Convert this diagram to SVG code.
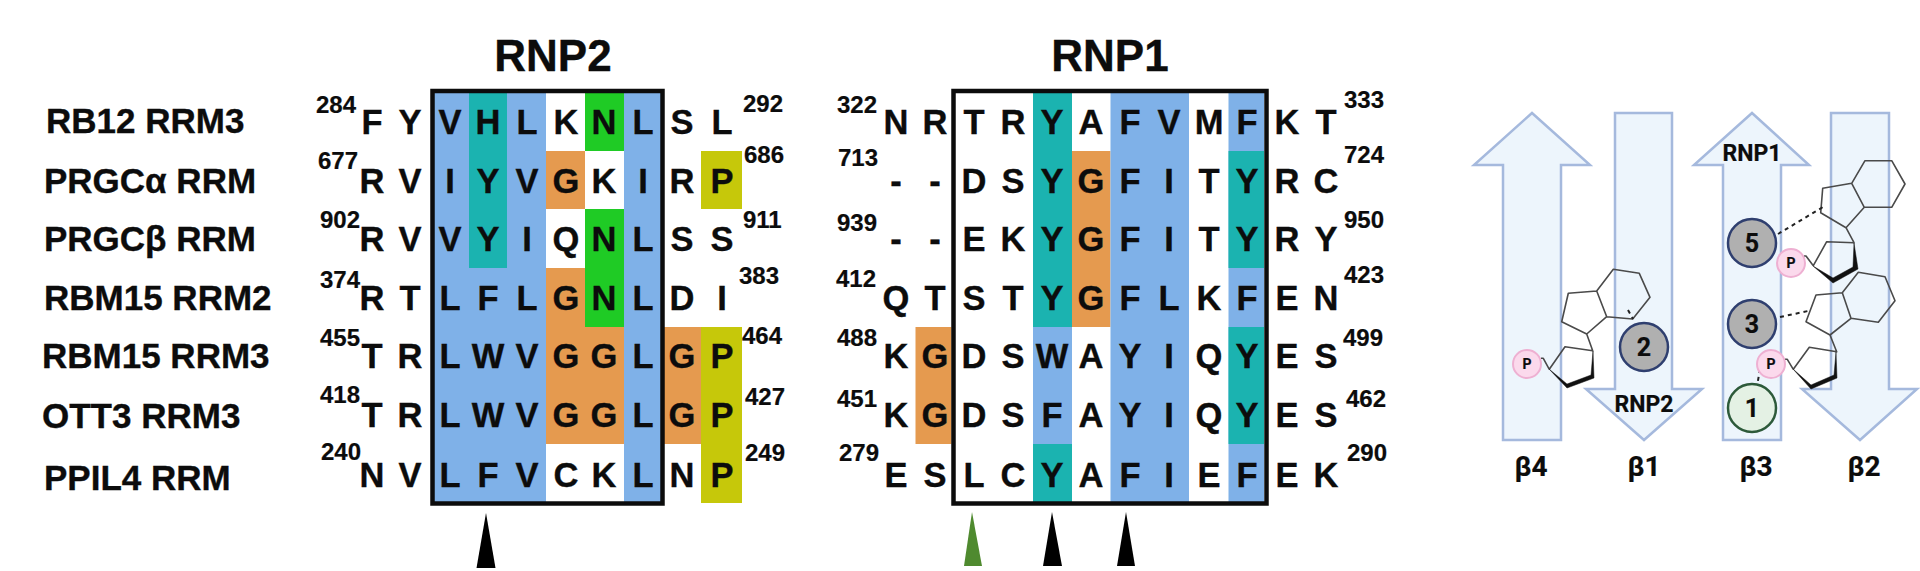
<svg xmlns="http://www.w3.org/2000/svg" width="1920" height="571" viewBox="0 0 1920 571">
<style>
text{font-family:"Liberation Sans",Arial,sans-serif;font-weight:700;fill:#0c0c0c;stroke:#0c0c0c;stroke-width:.35}
.t{font-size:44px;text-anchor:middle}
.n{font-size:35px}
.a{font-size:34.500px;text-anchor:middle}
.k{font-size:24px;stroke-width:.2}
.bl{fill:#7fb1e8}.te{fill:#1bb3b0}.gr{fill:#1fcb25}.or{fill:#e59a4f}.ye{fill:#c6c80a}
.box{fill:none;stroke:#0c0c0c;stroke-width:4.5}
.strand{fill:#edf5fc;stroke:#a5b9dd;stroke-width:2.5}
.ring{fill:none;stroke:#4a4a4a;stroke-width:1.6;stroke-linejoin:round}
.bold{fill:#111;stroke:#111;stroke-width:.5;stroke-linejoin:round}
.dash{fill:none;stroke:#222;stroke-width:2;stroke-dasharray:4 4}
.cg{fill:#b0b0b0;stroke:#2f3f6f;stroke-width:2.5}
.cn{fill:#e4f1e4;stroke:#2d5a3a;stroke-width:2.5}
.cp{fill:#fbd9ec;stroke:#eeb0d2;stroke-width:2}
.r{font-family:Roboto,"Liberation Sans",sans-serif;text-anchor:middle;stroke-width:.2}
.rl{font-size:23px}.rn{font-size:25px}.rp{font-size:14px}.rb{font-size:28px}
</style>

<g id="rnp2-shading">
<rect class="bl" x="434" y="93" width="112" height="409"/>
<rect class="te" x="469" y="93" width="38" height="175"/>
<rect class="or" x="546" y="151" width="39" height="58"/>
<rect class="or" x="546" y="268" width="39" height="176"/>
<rect class="gr" x="585" y="93" width="39" height="58"/>
<rect class="gr" x="585" y="209" width="39" height="118"/>
<rect class="or" x="585" y="327" width="39" height="117"/>
<rect class="bl" x="624" y="93" width="38" height="409"/>
<rect class="or" x="662" y="327" width="39" height="117"/>
<rect class="ye" x="701" y="151" width="41" height="58"/>
<rect class="ye" x="701" y="327" width="41" height="176"/>
</g>
<g id="rnp1-shading">
<rect class="or" x="915.500" y="327" width="36" height="117"/>
<rect class="te" x="1033" y="93" width="39" height="234"/>
<rect class="bl" x="1033" y="327" width="39" height="117"/>
<rect class="te" x="1033" y="444" width="39" height="58"/>
<rect class="or" x="1072" y="151" width="38.500" height="176"/>
<rect class="bl" x="1110.500" y="93" width="78.500" height="409"/>
<rect class="bl" x="1228.500" y="93" width="35.500" height="409"/>
<rect class="te" x="1228.500" y="151" width="35.500" height="117"/>
<rect class="te" x="1228.500" y="327" width="35.500" height="117"/>
</g>

<rect id="rnp2-box" class="box" x="432.500" y="91" width="230" height="412.500"/>
<rect id="rnp1-box" class="box" x="953.500" y="91" width="313" height="412.500"/>

<text class="t" x="553" y="71">RNP2</text>
<text class="t" x="1110" y="71">RNP1</text>

<g id="names">
<text class="n" x="46" y="133">RB12 RRM3</text>
<text class="n" x="44" y="193">PRGCα RRM</text>
<text class="n" x="44" y="251">PRGCβ RRM</text>
<text class="n" x="44" y="310">RBM15 RRM2</text>
<text class="n" x="42" y="368">RBM15 RRM3</text>
<text class="n" x="42" y="428">OTT3 RRM3</text>
<text class="n" x="44" y="490">PPIL4 RRM</text>
</g>

<g id="rnp2-residues">
<g id="r2-1"><text class="a" x="372" y="134">F</text><text class="a" x="410" y="134">Y</text><text class="a" x="450" y="134">V</text><text class="a" x="488" y="134">H</text><text class="a" x="527" y="134">L</text><text class="a" x="566" y="134">K</text><text class="a" x="604" y="134">N</text><text class="a" x="643" y="134">L</text><text class="a" x="682" y="134">S</text><text class="a" x="722" y="134">L</text></g>
<g id="r2-2"><text class="a" x="372" y="193">R</text><text class="a" x="410" y="193">V</text><text class="a" x="450" y="193">I</text><text class="a" x="488" y="193">Y</text><text class="a" x="527" y="193">V</text><text class="a" x="566" y="193">G</text><text class="a" x="604" y="193">K</text><text class="a" x="643" y="193">I</text><text class="a" x="682" y="193">R</text><text class="a" x="722" y="193">P</text></g>
<g id="r2-3"><text class="a" x="372" y="251">R</text><text class="a" x="410" y="251">V</text><text class="a" x="450" y="251">V</text><text class="a" x="488" y="251">Y</text><text class="a" x="527" y="251">I</text><text class="a" x="566" y="251">Q</text><text class="a" x="604" y="251">N</text><text class="a" x="643" y="251">L</text><text class="a" x="682" y="251">S</text><text class="a" x="722" y="251">S</text></g>
<g id="r2-4"><text class="a" x="372" y="310">R</text><text class="a" x="410" y="310">T</text><text class="a" x="450" y="310">L</text><text class="a" x="488" y="310">F</text><text class="a" x="527" y="310">L</text><text class="a" x="566" y="310">G</text><text class="a" x="604" y="310">N</text><text class="a" x="643" y="310">L</text><text class="a" x="682" y="310">D</text><text class="a" x="722" y="310">I</text></g>
<g id="r2-5"><text class="a" x="372" y="368">T</text><text class="a" x="410" y="368">R</text><text class="a" x="450" y="368">L</text><text class="a" x="488" y="368">W</text><text class="a" x="527" y="368">V</text><text class="a" x="566" y="368">G</text><text class="a" x="604" y="368">G</text><text class="a" x="643" y="368">L</text><text class="a" x="682" y="368">G</text><text class="a" x="722" y="368">P</text></g>
<g id="r2-6"><text class="a" x="372" y="427">T</text><text class="a" x="410" y="427">R</text><text class="a" x="450" y="427">L</text><text class="a" x="488" y="427">W</text><text class="a" x="527" y="427">V</text><text class="a" x="566" y="427">G</text><text class="a" x="604" y="427">G</text><text class="a" x="643" y="427">L</text><text class="a" x="682" y="427">G</text><text class="a" x="722" y="427">P</text></g>
<g id="r2-7"><text class="a" x="372" y="487">N</text><text class="a" x="410" y="487">V</text><text class="a" x="450" y="487">L</text><text class="a" x="488" y="487">F</text><text class="a" x="527" y="487">V</text><text class="a" x="566" y="487">C</text><text class="a" x="604" y="487">K</text><text class="a" x="643" y="487">L</text><text class="a" x="682" y="487">N</text><text class="a" x="722" y="487">P</text></g>
</g>

<g id="rnp1-residues">
<g id="r1-1"><text class="a" x="896" y="134">N</text><text class="a" x="935" y="134">R</text><text class="a" x="974" y="134">T</text><text class="a" x="1013" y="134">R</text><text class="a" x="1052" y="134">Y</text><text class="a" x="1091" y="134">A</text><text class="a" x="1130" y="134">F</text><text class="a" x="1169" y="134">V</text><text class="a" x="1209" y="134">M</text><text class="a" x="1247" y="134">F</text><text class="a" x="1287" y="134">K</text><text class="a" x="1326" y="134">T</text></g>
<g id="r1-2"><text class="a" x="896" y="193">-</text><text class="a" x="935" y="193">-</text><text class="a" x="974" y="193">D</text><text class="a" x="1013" y="193">S</text><text class="a" x="1052" y="193">Y</text><text class="a" x="1091" y="193">G</text><text class="a" x="1130" y="193">F</text><text class="a" x="1169" y="193">I</text><text class="a" x="1209" y="193">T</text><text class="a" x="1247" y="193">Y</text><text class="a" x="1287" y="193">R</text><text class="a" x="1326" y="193">C</text></g>
<g id="r1-3"><text class="a" x="896" y="251">-</text><text class="a" x="935" y="251">-</text><text class="a" x="974" y="251">E</text><text class="a" x="1013" y="251">K</text><text class="a" x="1052" y="251">Y</text><text class="a" x="1091" y="251">G</text><text class="a" x="1130" y="251">F</text><text class="a" x="1169" y="251">I</text><text class="a" x="1209" y="251">T</text><text class="a" x="1247" y="251">Y</text><text class="a" x="1287" y="251">R</text><text class="a" x="1326" y="251">Y</text></g>
<g id="r1-4"><text class="a" x="896" y="310">Q</text><text class="a" x="935" y="310">T</text><text class="a" x="974" y="310">S</text><text class="a" x="1013" y="310">T</text><text class="a" x="1052" y="310">Y</text><text class="a" x="1091" y="310">G</text><text class="a" x="1130" y="310">F</text><text class="a" x="1169" y="310">L</text><text class="a" x="1209" y="310">K</text><text class="a" x="1247" y="310">F</text><text class="a" x="1287" y="310">E</text><text class="a" x="1326" y="310">N</text></g>
<g id="r1-5"><text class="a" x="896" y="368">K</text><text class="a" x="935" y="368">G</text><text class="a" x="974" y="368">D</text><text class="a" x="1013" y="368">S</text><text class="a" x="1052" y="368">W</text><text class="a" x="1091" y="368">A</text><text class="a" x="1130" y="368">Y</text><text class="a" x="1169" y="368">I</text><text class="a" x="1209" y="368">Q</text><text class="a" x="1247" y="368">Y</text><text class="a" x="1287" y="368">E</text><text class="a" x="1326" y="368">S</text></g>
<g id="r1-6"><text class="a" x="896" y="427">K</text><text class="a" x="935" y="427">G</text><text class="a" x="974" y="427">D</text><text class="a" x="1013" y="427">S</text><text class="a" x="1052" y="427">F</text><text class="a" x="1091" y="427">A</text><text class="a" x="1130" y="427">Y</text><text class="a" x="1169" y="427">I</text><text class="a" x="1209" y="427">Q</text><text class="a" x="1247" y="427">Y</text><text class="a" x="1287" y="427">E</text><text class="a" x="1326" y="427">S</text></g>
<g id="r1-7"><text class="a" x="896" y="487">E</text><text class="a" x="935" y="487">S</text><text class="a" x="974" y="487">L</text><text class="a" x="1013" y="487">C</text><text class="a" x="1052" y="487">Y</text><text class="a" x="1091" y="487">A</text><text class="a" x="1130" y="487">F</text><text class="a" x="1169" y="487">I</text><text class="a" x="1209" y="487">E</text><text class="a" x="1247" y="487">F</text><text class="a" x="1287" y="487">E</text><text class="a" x="1326" y="487">K</text></g>
</g>

<g id="numbers">
<text class="k" x="316" y="113">284</text><text class="k" x="318" y="169">677</text><text class="k" x="320" y="228">902</text><text class="k" x="320" y="288">374</text><text class="k" x="320" y="346">455</text><text class="k" x="320" y="403">418</text><text class="k" x="321" y="460">240</text>
<text class="k" x="743" y="112">292</text><text class="k" x="744" y="163">686</text><text class="k" x="743" y="228">911</text><text class="k" x="739" y="284">383</text><text class="k" x="742" y="344">464</text><text class="k" x="745" y="405">427</text><text class="k" x="745" y="461">249</text>
<text class="k" x="837" y="113">322</text><text class="k" x="838" y="166">713</text><text class="k" x="837" y="231">939</text><text class="k" x="836" y="287">412</text><text class="k" x="837" y="346">488</text><text class="k" x="837" y="407">451</text><text class="k" x="839" y="461">279</text>
<text class="k" x="1344" y="108">333</text><text class="k" x="1344" y="163">724</text><text class="k" x="1344" y="228">950</text><text class="k" x="1344" y="283">423</text><text class="k" x="1343" y="346">499</text><text class="k" x="1346" y="407">462</text><text class="k" x="1347" y="461">290</text>
</g>

<g id="markers">
<polygon points="486,513 495.500,568 476.500,568" fill="#000"/>
<polygon points="972,512 982,566 964,566" fill="#4f8a2f"/>
<polygon points="1052,512 1062,566 1043,566" fill="#000"/>
<polygon points="1126,512 1135,566 1117,566" fill="#000"/>
</g>

<g id="strand-b4"><polygon class="strand" points="1532,113 1590,165 1561,165 1561,440 1503,440 1503,165 1474,165"/><text class="r rb" x="1531" y="476">β4</text></g>
<g id="strand-b1"><polygon class="strand" points="1615,113 1672,113 1672,389 1702,389 1644,440 1586,389 1615,389"/><text class="r rb" x="1644" y="476">β1</text><text class="r rl" x="1644" y="412">RNP2</text></g>
<g id="strand-b3"><polygon class="strand" points="1752,113 1809,165 1781,165 1781,440 1723,440 1723,165 1694,165"/><text class="r rb" x="1756" y="476">β3</text><text class="r rl" x="1752" y="161">RNP1</text></g>
<g id="strand-b2"><polygon class="strand" points="1831,113 1889,113 1889,389 1917,389 1860,440 1802,389 1831,389"/><text class="r rb" x="1864" y="476">β2</text></g>

<g id="nucleotide-1">
<path class="ring" d="M1851.700,183.300L1865,160.700L1891.700,160.700L1905,184L1891.700,207.300L1864.300,207.300ZM1851.700,183.300L1822.700,188.300L1820.700,212.700L1846,227.700L1864.300,207.300M1846,227.700L1854,242.700L1826.700,241.700L1813.300,265.700M1813.300,265.700L1806,256L1804,256"/>
<polygon class="bold" points="1813,266 1833,283 1858,269 1854,243 1853,267 1833,278"/>
</g>
<g id="nucleotide-2">
<path class="ring" d="M1842.300,292.700L1858.300,272.300L1885,276.700L1895,300.700L1878.300,322.300L1851,318.300ZM1842.300,292.700L1816,295L1806,321.700L1830,335L1851,318.300M1830,335L1836.700,351.700L1809.300,347.300L1793.300,369.300M1793.300,369.300L1787.300,359.300L1785,359.300"/>
<polygon class="bold" points="1793,369 1811,389 1837,378 1836,352 1834,375 1811,385"/>
</g>
<g id="nucleotide-3">
<path class="ring" d="M1596.700,291L1613.300,269.300L1639.300,273.300L1650,297.300L1632.700,319L1606.700,316.700ZM1596.700,291L1568.300,293.300L1561.700,321.700L1586.700,334L1606.700,316.700M1586.700,334L1592.700,350.700L1565,346.700L1549.300,369.300M1549.300,369.300L1543.300,358.300L1541,358.300"/>
<polygon class="bold" points="1549,369 1567,388 1594,378 1593,351 1591,375 1567,384"/>
</g>

<g id="connectors">
<path class="dash" d="M1778,234L1823,207"/>
<path class="dash" d="M1780,317L1808,311"/>
<path class="dash" stroke-dasharray="3 3" d="M1628,310L1633,319"/>
<path class="dash" stroke-dasharray="4 3" d="M1760,369L1756,392"/>
</g>

<g id="residue-5"><circle class="cg" cx="1752" cy="243" r="24"/><text class="r rn" x="1752" y="252">5</text></g>
<g id="residue-3"><circle class="cg" cx="1752" cy="324" r="24"/><text class="r rn" x="1752" y="333">3</text></g>
<g id="residue-2"><circle class="cg" cx="1644" cy="347" r="24"/><text class="r rn" x="1644" y="356">2</text></g>
<g id="residue-1"><circle class="cn" cx="1752" cy="408" r="24"/><text class="r rn" x="1752" y="417">1</text></g>
<g id="phosphate-a"><circle class="cp" cx="1791" cy="263" r="14"/><text class="r rp" x="1791" y="268">P</text></g>
<g id="phosphate-b"><circle class="cp" cx="1771" cy="364" r="14"/><text class="r rp" x="1771" y="369">P</text></g>
<g id="phosphate-c"><circle class="cp" cx="1527" cy="364" r="14"/><text class="r rp" x="1527" y="369">P</text></g>
</svg>
